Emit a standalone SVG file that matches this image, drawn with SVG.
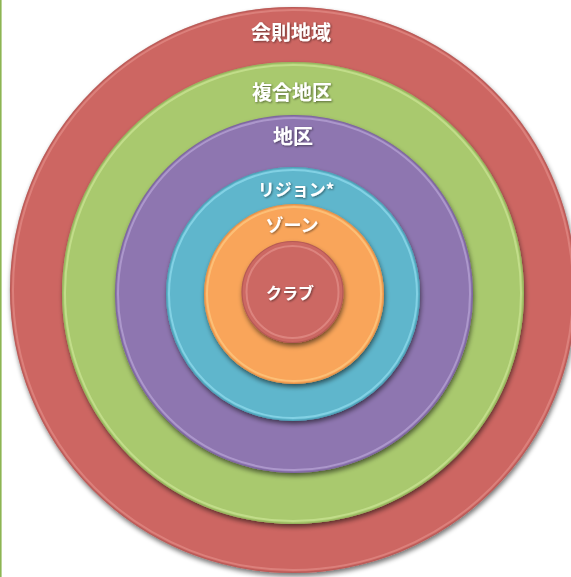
<svg xmlns="http://www.w3.org/2000/svg" width="571" height="577" viewBox="0 0 571 577">
<defs>
<filter id="sh" x="-10%" y="-10%" width="120%" height="120%">
<feGaussianBlur in="SourceAlpha" stdDeviation="2.5"/>
<feOffset dx="1" dy="3" result="b"/>
<feComponentTransfer><feFuncA type="linear" slope="0.55"/></feComponentTransfer>
<feMerge><feMergeNode/><feMergeNode in="SourceGraphic"/></feMerge>
</filter>
<filter id="ts" x="-10%" y="-20%" width="120%" height="140%">
<feGaussianBlur in="SourceAlpha" stdDeviation="0.8"/>
<feOffset dx="0.5" dy="1"/>
<feComponentTransfer><feFuncA type="linear" slope="0.5"/></feComponentTransfer>
<feMerge><feMergeNode/><feMergeNode in="SourceGraphic"/></feMerge>
</filter>
</defs>
<style>
.edge{fill:none;stroke-width:2;opacity:0.55}
.dark{fill:none;stroke-width:1.2;opacity:0.5}
text{font-family:"Noto Sans CJK JP","Noto Sans",sans-serif;font-weight:bold;fill:#fff;text-anchor:middle;filter:url(#ts)}
</style>
<rect x="0" y="0" width="571" height="577" fill="#fff"/>
<line x1="0.8" y1="0" x2="0.8" y2="577" stroke="#8DB553" stroke-width="1.6"/>
<g id="ring-kaisoku">
<circle cx="293" cy="290" r="283" fill="#CD6662" filter="url(#sh)"/>
<circle cx="293" cy="290" r="280" class="edge" stroke="#E89590"/>
<circle cx="293" cy="290" r="282.5" class="dark" stroke="#A5504D"/>
<text x="291" y="40" font-size="20">会則地域</text>
</g>
<g id="ring-fukugou">
<circle cx="293" cy="293" r="231" fill="#A9C96E" filter="url(#sh)"/>
<circle cx="293" cy="293" r="228" class="edge" stroke="#D6EDA0"/>
<circle cx="293" cy="293" r="230.5" class="dark" stroke="#86A352"/>
<text x="292" y="100" font-size="20">複合地区</text>
</g>
<g id="ring-chiku">
<circle cx="294" cy="294" r="179" fill="#8E76B0" filter="url(#sh)"/>
<circle cx="294" cy="294" r="176" class="edge" stroke="#C5B2E2"/>
<circle cx="294" cy="294" r="178.5" class="dark" stroke="#6E5890"/>
<text x="293" y="144" font-size="20">地区</text>
</g>
<g id="ring-region">
<circle cx="293" cy="294" r="127" fill="#5EB6CC" filter="url(#sh)"/>
<circle cx="293" cy="294" r="124" class="edge" stroke="#9FE8F8"/>
<circle cx="293" cy="294" r="126.5" class="dark" stroke="#4090A6"/>
<text x="296" y="196" font-size="17">リジョン*</text>
</g>
<g id="ring-zone">
<circle cx="294" cy="294" r="90" fill="#F9A55A" filter="url(#sh)"/>
<circle cx="294" cy="294" r="87" class="edge" stroke="#FFD68E"/>
<circle cx="294" cy="294" r="89.5" class="dark" stroke="#D0833C"/>
<text x="292" y="232" font-size="18">ゾーン</text>
</g>
<g id="ring-club">
<circle cx="292.5" cy="292" r="51" fill="#CC6864" filter="url(#sh)"/>
<circle cx="292.5" cy="292" r="46" class="edge" stroke="#E99A95"/>
<circle cx="292.5" cy="292" r="50.5" class="dark" stroke="#9E4A47"/>
<text x="290" y="299" font-size="16">クラブ</text>
</g>
</svg>
